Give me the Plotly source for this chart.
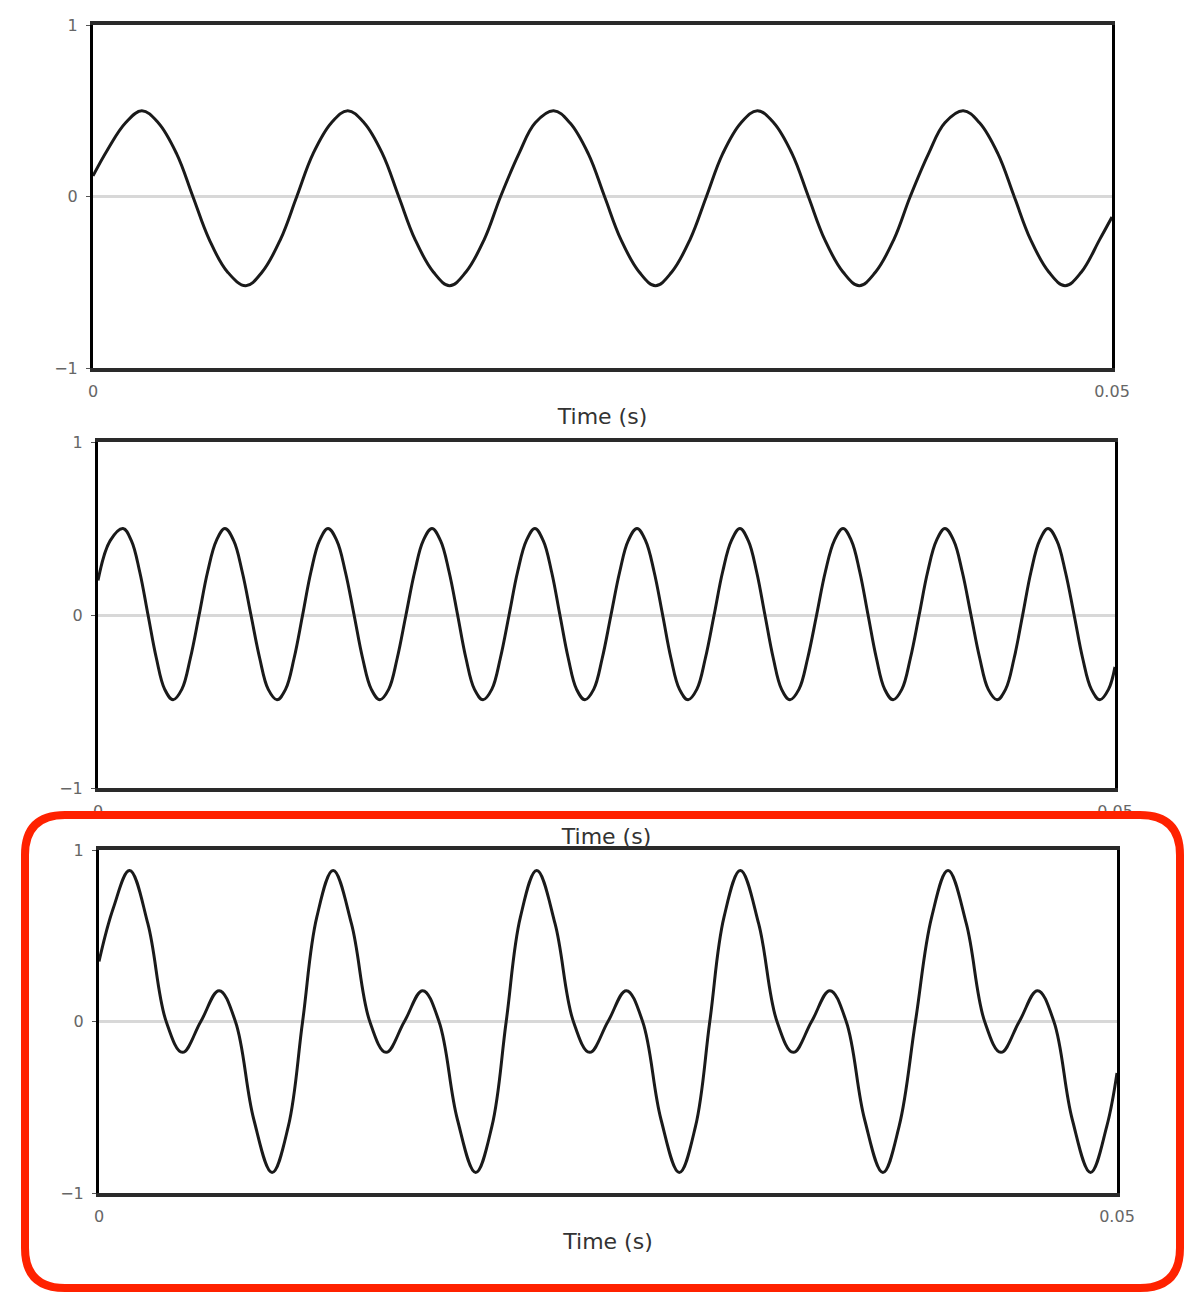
import plotly.graph_objects as go

# values (time in s, signal amplitude)
t_100hz = [0.0000, 0.0007, 0.0016, 0.0024, 0.0032, 0.0041,
           0.0049, 0.0057, 0.0066, 0.0075, 0.0083, 0.0092,
           0.0100, 0.0108, 0.0117, 0.0125, 0.0133, 0.0142,
           0.0150, 0.0158, 0.0167, 0.0175, 0.0183, 0.0192,
           0.0200, 0.0209, 0.0217, 0.0226, 0.0234, 0.0243,
           0.0251, 0.0259, 0.0268, 0.0276, 0.0284, 0.0293,
           0.0301, 0.0309, 0.0318, 0.0326, 0.0334, 0.0343,
           0.0351, 0.0359, 0.0368, 0.0376, 0.0384, 0.0393,
           0.0401, 0.0410, 0.0418, 0.0427, 0.0435, 0.0444,
           0.0452, 0.0460, 0.0469, 0.0477, 0.0485, 0.0494,
           0.0500]
y_100hz = [0.12, 0.27, 0.43, 0.50, 0.43, 0.25,
           0.00, -0.25, -0.44, -0.52, -0.44, -0.25,
           0.00, 0.25, 0.43, 0.50, 0.43, 0.25,
           0.00, -0.25, -0.44, -0.52, -0.44, -0.25,
           0.00, 0.25, 0.43, 0.50, 0.43, 0.25,
           0.00, -0.25, -0.44, -0.52, -0.44, -0.25,
           0.00, 0.25, 0.43, 0.50, 0.43, 0.25,
           0.00, -0.25, -0.44, -0.52, -0.44, -0.25,
           0.00, 0.25, 0.43, 0.50, 0.43, 0.25,
           0.00, -0.25, -0.44, -0.52, -0.44, -0.25,
           -0.12]

t_200hz = [0.00000, 0.00060, 0.00123,
           0.00164, 0.00205, 0.00246, 0.00287, 0.00328, 0.00369,
           0.00412, 0.00454, 0.00497, 0.00539, 0.00582, 0.00624,
           0.00667, 0.00709, 0.00752, 0.00795, 0.00837, 0.00880,
           0.00922, 0.00964, 0.01006, 0.01047, 0.01089, 0.01131,
           0.01174, 0.01216, 0.01259, 0.01301, 0.01344, 0.01386,
           0.01429, 0.01471, 0.01514, 0.01557, 0.01599, 0.01642,
           0.01684, 0.01726, 0.01768, 0.01809, 0.01851, 0.01893,
           0.01936, 0.01978, 0.02021, 0.02063, 0.02106, 0.02148,
           0.02189, 0.02230, 0.02271, 0.02312, 0.02353, 0.02394,
           0.02437, 0.02479, 0.02522, 0.02565, 0.02607, 0.02650,
           0.02692, 0.02734, 0.02776, 0.02817, 0.02859, 0.02901,
           0.02944, 0.02986, 0.03029, 0.03071, 0.03114, 0.03156,
           0.03197, 0.03238, 0.03279, 0.03320, 0.03361, 0.03402,
           0.03446, 0.03489, 0.03533, 0.03576, 0.03620, 0.03663,
           0.03704, 0.03745, 0.03786, 0.03827, 0.03868, 0.03909,
           0.03952, 0.03994, 0.04037, 0.04079, 0.04122, 0.04164,
           0.04207, 0.04249, 0.04292, 0.04335, 0.04377, 0.04420,
           0.04462, 0.04504, 0.04546, 0.04587, 0.04629, 0.04671,
           0.04714, 0.04756, 0.04799, 0.04841, 0.04884, 0.04926,
           0.04968, 0.05000]
y_200hz = [0.20, 0.43, 0.50,
           0.43, 0.25, 0.00, -0.25, -0.43, -0.49,
           -0.43, -0.25, 0.00, 0.25, 0.43, 0.50,
           0.43, 0.25, 0.00, -0.25, -0.43, -0.49,
           -0.43, -0.25, 0.00, 0.25, 0.43, 0.50,
           0.43, 0.25, 0.00, -0.25, -0.43, -0.49,
           -0.43, -0.25, 0.00, 0.25, 0.43, 0.50,
           0.43, 0.25, 0.00, -0.25, -0.43, -0.49,
           -0.43, -0.25, 0.00, 0.25, 0.43, 0.50,
           0.43, 0.25, 0.00, -0.25, -0.43, -0.49,
           -0.43, -0.25, 0.00, 0.25, 0.43, 0.50,
           0.43, 0.25, 0.00, -0.25, -0.43, -0.49,
           -0.43, -0.25, 0.00, 0.25, 0.43, 0.50,
           0.43, 0.25, 0.00, -0.25, -0.43, -0.49,
           -0.43, -0.25, 0.00, 0.25, 0.43, 0.50,
           0.43, 0.25, 0.00, -0.25, -0.43, -0.49,
           -0.43, -0.25, 0.00, 0.25, 0.43, 0.50,
           0.43, 0.25, 0.00, -0.25, -0.43, -0.49,
           -0.43, -0.25, 0.00, 0.25, 0.43, 0.50,
           0.43, 0.25, 0.00, -0.25, -0.43, -0.49,
           -0.43, -0.30]

t_sum = [0.0000, 0.0007, 0.0015, 0.0024, 0.0033, 0.0041, 0.0050, 0.0059, 0.0067, 0.0076, 0.0085, 0.0093,
         0.0100, 0.0107, 0.0115, 0.0124, 0.0133, 0.0141, 0.0150, 0.0159, 0.0167, 0.0176, 0.0185, 0.0193,
         0.0200, 0.0207, 0.0215, 0.0224, 0.0233, 0.0241, 0.0250, 0.0259, 0.0267, 0.0276, 0.0285, 0.0293,
         0.0300, 0.0307, 0.0315, 0.0324, 0.0333, 0.0341, 0.0350, 0.0359, 0.0367, 0.0376, 0.0385, 0.0393,
         0.0401, 0.0409, 0.0417, 0.0426, 0.0435, 0.0443, 0.0452, 0.0461, 0.0469, 0.0478, 0.0487, 0.0495,
         0.0500]
y_sum = [0.35, 0.66, 0.88, 0.57, 0.00, -0.18, 0.00, 0.18, 0.00, -0.57, -0.88, -0.61,
         0.00, 0.61, 0.88, 0.57, 0.00, -0.18, 0.00, 0.18, 0.00, -0.57, -0.88, -0.61,
         0.00, 0.61, 0.88, 0.57, 0.00, -0.18, 0.00, 0.18, 0.00, -0.57, -0.88, -0.61,
         0.00, 0.61, 0.88, 0.57, 0.00, -0.18, 0.00, 0.18, 0.00, -0.57, -0.88, -0.61,
         0.00, 0.61, 0.88, 0.57, 0.00, -0.18, 0.00, 0.18, 0.00, -0.57, -0.88, -0.61,
         -0.30]

x_ticks = [0, 0.05]
x_ticktext = ["0", "0.05"]
y_ticks = [-1, 0, 1]
y_ticktext = ["\u22121", "0", "1"]
x_title = "Time (s)"

W, H = 1189, 1293

def px_x(v):
    return v / W

def px_y(v):
    return 1 - v / H

# pixel boxes of the three panels: left, right, top, bottom
panels = [(93, 1112, 25, 368), (98, 1115, 442, 788), (99, 1117, 850, 1193)]
series = [(t_100hz, y_100hz), (t_200hz, y_200hz), (t_sum, y_sum)]
tick_font = dict(size=16, color="#666", family="DejaVu Sans")

fig = go.Figure()
layout = {}
for i, ((t, y), (l, r, top, bot)) in enumerate(zip(series, panels), start=1):
    sfx = "" if i == 1 else str(i)
    fig.add_trace(go.Scatter(
        x=t, y=y, mode="lines",
        line=dict(color="#1a1a1a", width=3, shape="spline", smoothing=1.1),
        xaxis="x" + sfx, yaxis="y" + sfx, showlegend=False, hoverinfo="skip"
    ))
    layout["xaxis" + sfx] = dict(
        domain=[px_x(l), px_x(r)], anchor="y" + sfx, range=[0, 0.05],
        tickvals=x_ticks, ticktext=x_ticktext, showgrid=False, zeroline=False,
        showline=True, mirror=True, linecolor="#2a2a2a", linewidth=4,
        ticks="", ticklabelstandoff=6, tickfont=tick_font, automargin=False,
        title=dict(text=x_title, standoff=9,
                   font=dict(size=22, color="#333", family="DejaVu Sans")),
    )
    layout["yaxis" + sfx] = dict(
        domain=[px_y(bot), px_y(top)], anchor="x" + sfx, range=[-1, 1],
        tickvals=y_ticks, ticktext=y_ticktext, showgrid=False,
        zeroline=True, zerolinecolor="#d8d8d8", zerolinewidth=3,
        showline=True, mirror=True, linecolor="black", linewidth=3,
        ticks="outside", ticklen=4, tickcolor="#555", ticklabelstandoff=5,
        tickfont=tick_font, automargin=False,
    )

# red rounded highlight around the bottom panel
x0, x1 = px_x(25), px_x(1180)
yt, yb = px_y(815), px_y(1288)
rx, ry = 40 / W, 40 / H
path = (f"M {x0+rx},{yt} L {x1-rx},{yt} Q {x1},{yt} {x1},{yt-ry} "
        f"L {x1},{yb+ry} Q {x1},{yb} {x1-rx},{yb} "
        f"L {x0+rx},{yb} Q {x0},{yb} {x0},{yb+ry} "
        f"L {x0},{yt-ry} Q {x0},{yt} {x0+rx},{yt} Z")

fig.update_layout(
    width=W, height=H,
    margin=dict(l=0, r=0, t=0, b=0, pad=0, autoexpand=False),
    paper_bgcolor="white", plot_bgcolor="white",
    shapes=[dict(type="path", path=path, xref="paper", yref="paper",
                 line=dict(color="rgb(255,34,0)", width=8))],
    **layout
)

# drop the default body margin so the figure fills the window exactly
fig.write_html("out.html", config={"displayModeBar": False},
               post_script="document.body.style.margin='0';document.body.style.overflow='hidden';")
